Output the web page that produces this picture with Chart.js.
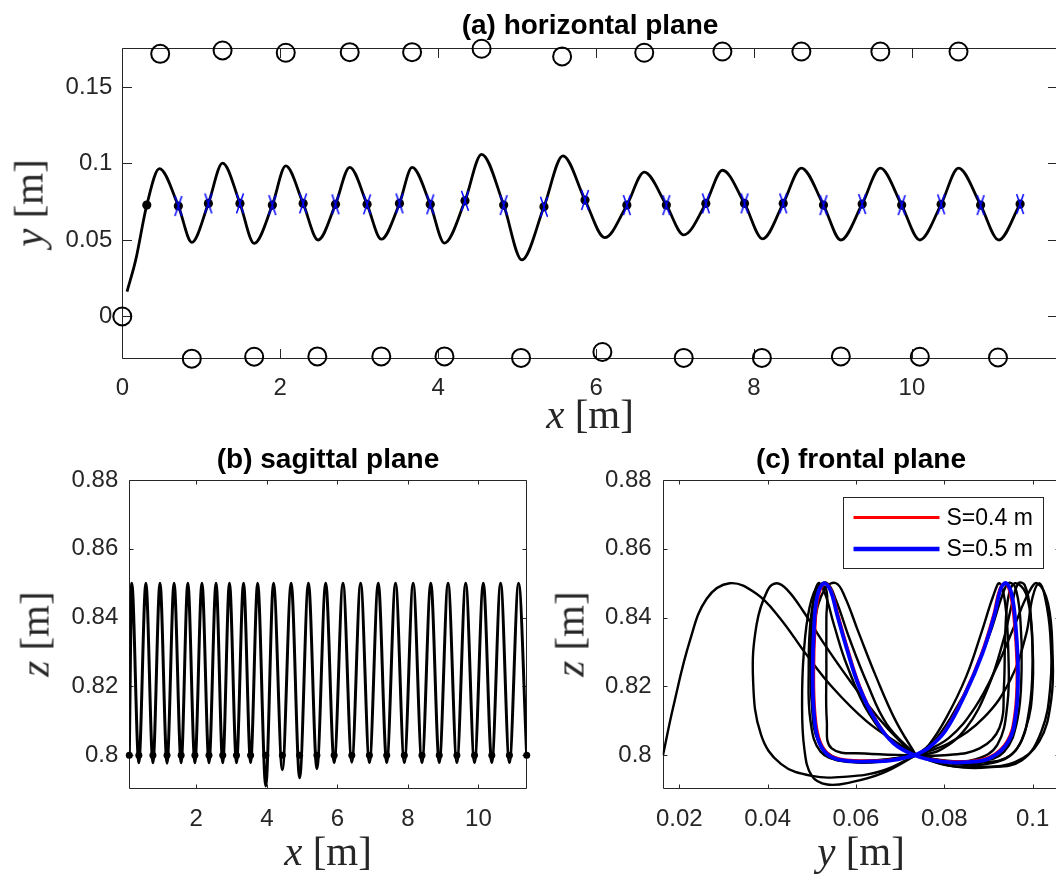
<!DOCTYPE html>
<html><head><meta charset="utf-8">
<script src="https://cdn.jsdelivr.net/npm/chart.js@4.4.1/dist/chart.umd.min.js"></script>
<style>
html,body{margin:0;padding:0;background:#fff;overflow:hidden;width:1056px;height:878px;position:relative}
canvas{position:absolute}
.title{position:absolute;font:bold 28px "Liberation Sans",Arial,Helvetica,sans-serif;color:#000;line-height:1;white-space:nowrap;transform:translateX(-50%)}
.lab{position:absolute;font:41px "Liberation Serif","Times New Roman",serif;color:#262626;line-height:1;white-space:nowrap}
.lab.hx{transform:translateX(-50%)}
.lab.rot{transform:translate(-50%,-50%) rotate(-90deg)}
</style></head><body>
<canvas id="cA" width="1070" height="440" style="left:0;top:0"></canvas>
<canvas id="cB" width="540" height="438" style="left:0;top:440px"></canvas>
<canvas id="cC" width="530" height="438" style="left:540px;top:440px"></canvas>
<div class="title" style="left:590px;top:11px">(a) horizontal plane</div>
<div class="title" style="left:328px;top:445px">(b) sagittal plane</div>
<div class="title" style="left:861px;top:445px">(c) frontal plane</div>
<div class="lab hx" style="left:590px;top:394px"><i>x</i> [m]</div>
<div class="lab hx" style="left:328px;top:831px"><i>x</i> [m]</div>
<div class="lab hx" style="left:861px;top:831px"><i>y</i> [m]</div>
<div class="lab rot" style="left:29px;top:203px"><i>y</i> [m]</div>
<div class="lab rot" style="left:35px;top:634px"><i>z</i> [m]</div>
<div class="lab rot" style="left:570px;top:634px"><i>z</i> [m]</div>
<script>
// ---------------- (a) horizontal plane ----------------
const horizX = [0.06,0.17,0.31,0.47,0.71,0.88,1.09,1.27,1.49,1.67,1.90,2.07,2.29,2.48,2.70,2.88,3.10,3.28,3.51,3.67,3.90,4.08,4.34,4.55,4.83,5.06,5.34,5.58,5.86,6.11,6.39,6.61,6.89,7.11,7.39,7.60,7.88,8.11,8.37,8.60,8.88,9.10,9.37,9.60,9.87,10.10,10.37,10.59,10.87,11.10,11.37];
const horizY = [0.0163,0.037,0.0728,0.0967,0.0722,0.0485,0.0739,0.1003,0.0739,0.0478,0.0728,0.0984,0.0739,0.0500,0.0733,0.0975,0.0733,0.0505,0.0739,0.0975,0.0733,0.0480,0.0756,0.1060,0.0728,0.0370,0.0717,0.1050,0.0761,0.0515,0.0728,0.0943,0.0728,0.0533,0.0739,0.0956,0.0739,0.0507,0.0739,0.0970,0.0728,0.0500,0.0735,0.0970,0.0728,0.0500,0.0733,0.0970,0.0728,0.0500,0.0735];
const stepDotX = [0.31,0.71,1.09,1.49,1.90,2.29,2.70,3.10,3.51,3.90,4.34,4.83,5.34,5.86,6.39,6.89,7.39,7.88,8.37,8.88,9.37,9.87,10.37,10.87,11.37];
const stepDotY = [0.0728,0.0722,0.0739,0.0739,0.0728,0.0739,0.0733,0.0733,0.0739,0.0733,0.0756,0.0728,0.0717,0.0761,0.0728,0.0728,0.0739,0.0739,0.0739,0.0728,0.0735,0.0728,0.0733,0.0728,0.0735];
const footTopX = [0.48,1.27,2.07,2.88,3.67,4.55,5.57,6.61,7.60,8.60,9.60,10.59];
const footTopY = [0.1717,0.1739,0.1724,0.1728,0.1728,0.1750,0.1700,0.1724,0.1732,0.1732,0.1732,0.1732];
const footBotX = [0,0.88,1.67,2.47,3.28,4.08,5.05,6.08,7.11,8.10,9.10,10.10,11.09];
const footBotY = [0,-0.0276,-0.0263,-0.0261,-0.0261,-0.0261,-0.0271,-0.0232,-0.0271,-0.0271,-0.0261,-0.0263,-0.0268];
const aTicksX = [0,2,4,6,8,10];
const aLabelsX = ['0','2','4','6','8','10'];
const aTicksY = [0,0.05,0.1,0.15];
const aLabelsY = ['0','0.05','0.1','0.15'];

// ---------------- (b) sagittal plane ----------------
const sagX = [0.10,0.17,0.37,0.57,0.77,0.97,1.17,1.37,1.57,1.76,1.96,2.16,2.36,2.56,2.75,2.94,3.14,3.34,3.54,3.74,3.97,4.19,4.44,4.69,4.93,5.18,5.42,5.67,5.91,6.16,6.41,6.66,6.91,7.16,7.40,7.65,7.90,8.15,8.40,8.65,8.89,9.14,9.39,9.64,9.89,10.14,10.38,10.63,10.88,11.14,11.37];
const sagZ = [0.800,0.850,0.7978,0.850,0.7978,0.850,0.7977,0.850,0.7978,0.850,0.7978,0.850,0.7978,0.850,0.7978,0.850,0.7978,0.850,0.7979,0.850,0.7911,0.850,0.7958,0.850,0.7935,0.850,0.7961,0.850,0.7979,0.850,0.7980,0.850,0.7979,0.850,0.7979,0.850,0.7979,0.850,0.7979,0.850,0.7979,0.850,0.7979,0.850,0.7979,0.850,0.7979,0.850,0.7979,0.850,0.800];
const sagDotX = [0.10,0.37,0.77,1.17,1.57,1.96,2.36,2.75,3.14,3.54,3.97,4.44,4.93,5.42,5.91,6.41,6.91,7.40,7.90,8.40,8.89,9.39,9.89,10.38,10.88,11.37];
const sagDotZ = [0.8,0.8,0.8,0.8,0.8,0.8,0.8,0.8,0.8,0.8,0.8,0.8,0.8,0.8,0.8,0.8,0.8,0.8,0.8,0.8,0.8,0.8,0.8,0.8,0.8,0.8];
const bTicksX = [2,4,6,8,10];
const bLabelsX = ['2','4','6','8','10'];
const zTicks = [0.8,0.82,0.84,0.86,0.88];
const zLabels = ['0.8','0.82','0.84','0.86','0.88'];

// ---------------- (c) frontal plane: [y, z] pairs ----------------
const frontalStart = [[0.0163,0.800],[0.0186,0.8139],[0.0224,0.8333],[0.0262,0.8455],[0.0314,0.8500],[0.0374,0.8470],[0.0427,0.8400],[0.0487,0.8294],[0.0547,0.8197],[0.0623,0.8100],[0.0698,0.8032],[0.0736,0.800]];
const frontalR1 = [[0.0736,0.800],[0.0800,0.7972],[0.0880,0.7966],[0.0960,0.7980],[0.1015,0.8040],[0.1042,0.8160],[0.1045,0.8300],[0.1035,0.8440],[0.1010,0.8500],[0.0990,0.8470],[0.0960,0.8380],[0.0920,0.8260],[0.0870,0.8140],[0.0810,0.8050],[0.0736,0.800]];
const frontalL1 = [[0.0736,0.800],[0.0660,0.7955],[0.0580,0.7938],[0.0500,0.7940],[0.0430,0.7975],[0.0385,0.8060],[0.0367,0.8220],[0.0375,0.8380],[0.0400,0.8480],[0.0421,0.8500],[0.0445,0.8480],[0.0480,0.8420],[0.0530,0.8320],[0.0590,0.8210],[0.0650,0.8110],[0.0700,0.8040],[0.0736,0.800]];
const frontalL2 = [[0.0736,0.800],[0.0660,0.7948],[0.0590,0.7922],[0.0535,0.7915],[0.0500,0.7940],[0.0483,0.8020],[0.0478,0.8150],[0.0482,0.8300],[0.0495,0.8430],[0.0515,0.8495],[0.0533,0.8480],[0.0533,0.8400],[0.0533,0.8250],[0.0534,0.8100],[0.0545,0.8020],[0.0620,0.8005],[0.0736,0.800]];
const frontalR2 = [[0.0736,0.800],[0.0820,0.7968],[0.0900,0.7965],[0.0975,0.7985],[0.1020,0.8070],[0.1040,0.8200],[0.1040,0.8350],[0.1028,0.8460],[0.1015,0.8500],[0.1000,0.8460],[0.0985,0.8350],[0.0950,0.8220],[0.0890,0.8110],[0.0810,0.8035],[0.0736,0.800]];
const frontalL3 = [[0.0736,0.800],[0.0650,0.7985],[0.0570,0.7985],[0.0520,0.8010],[0.0497,0.8100],[0.0493,0.8250],[0.0498,0.8400],[0.0515,0.8490],[0.0535,0.8500],[0.0555,0.8450],[0.0585,0.8340],[0.0625,0.8210],[0.0670,0.8090],[0.0736,0.800]];
const frontalR3 = [[0.0736,0.800],[0.0810,0.7982],[0.0880,0.7982],[0.0935,0.8010],[0.0965,0.8100],[0.0975,0.8250],[0.0972,0.8400],[0.0960,0.8490],[0.0945,0.8500],[0.0930,0.8460],[0.0905,0.8360],[0.0865,0.8230],[0.0815,0.8110],[0.0770,0.8030],[0.0736,0.800]];
const frontalL4 = [[0.0736,0.800],[0.0660,0.7982],[0.0590,0.7980],[0.0535,0.8000],[0.0508,0.8080],[0.0500,0.8230],[0.0507,0.8390],[0.0530,0.8485],[0.0555,0.8500],[0.0575,0.8460],[0.0605,0.8360],[0.0645,0.8230],[0.0690,0.8100],[0.0736,0.800]];
const frontalR4 = [[0.0736,0.800],[0.0800,0.7985],[0.0870,0.7988],[0.0920,0.8030],[0.0943,0.8150],[0.0945,0.8300],[0.0938,0.8440],[0.0925,0.8500],[0.0910,0.8460],[0.0885,0.8360],[0.0850,0.8230],[0.0805,0.8110],[0.0765,0.8030],[0.0736,0.800]];
const frontalL5 = [[0.0736,0.800],[0.0640,0.7985],[0.0560,0.7990],[0.0515,0.8040],[0.0500,0.8150],[0.0498,0.8300],[0.0503,0.8440],[0.0515,0.8500],[0.0530,0.8470],[0.0550,0.8380],[0.0580,0.8260],[0.0630,0.8120],[0.0690,0.8030],[0.0736,0.800]];
const frontalR5 = [[0.0736,0.800],[0.0820,0.7975],[0.0910,0.7978],[0.0965,0.8020],[0.0992,0.8130],[0.1000,0.8280],[0.0995,0.8420],[0.0982,0.8495],[0.0968,0.8500],[0.0955,0.8450],[0.0935,0.8340],[0.0900,0.8200],[0.0850,0.8080],[0.0790,0.8015],[0.0736,0.800]];
const frontalR6 = [[0.0736,0.800],[0.0800,0.7980],[0.0880,0.7978],[0.0950,0.8000],[0.0985,0.8080],[0.1000,0.8200],[0.0998,0.8360],[0.0985,0.8470],[0.0960,0.8500],[0.0945,0.8460],[0.0938,0.8350],[0.0935,0.8200],[0.0925,0.8080],[0.0880,0.8020],[0.0800,0.8000],[0.0736,0.800]];
const frontalS04 = [[0.0733,0.800],[0.0680,0.7987],[0.0630,0.7985],[0.0580,0.7987],[0.0542,0.8001],[0.0519,0.8042],[0.0508,0.8120],[0.0505,0.8240],[0.0508,0.8370],[0.0515,0.8458],[0.0530,0.8500],[0.0545,0.8478],[0.0560,0.8408],[0.0581,0.8313],[0.0610,0.8198],[0.0648,0.8098],[0.0688,0.8033],[0.0733,0.800],[0.0790,0.7985],[0.0850,0.7983],[0.0903,0.7996],[0.0942,0.8042],[0.0959,0.8120],[0.0964,0.8240],[0.0959,0.8370],[0.0950,0.8463],[0.0938,0.8500],[0.0925,0.8483],[0.0911,0.8408],[0.0883,0.8293],[0.0845,0.8178],[0.0800,0.8070],[0.0762,0.8020],[0.0733,0.800]];
const frontalS05 = [[0.0733,0.800],[0.0680,0.7985],[0.0630,0.7982],[0.0580,0.7984],[0.0540,0.7998],[0.0516,0.8040],[0.0505,0.8120],[0.0502,0.8240],[0.0505,0.8370],[0.0512,0.8460],[0.0527,0.8500],[0.0542,0.8480],[0.0557,0.8410],[0.0578,0.8315],[0.0607,0.8200],[0.0645,0.8100],[0.0685,0.8035],[0.0733,0.800],[0.0790,0.7982],[0.0850,0.7980],[0.0905,0.7993],[0.0945,0.8040],[0.0962,0.8120],[0.0967,0.8240],[0.0962,0.8370],[0.0953,0.8465],[0.0940,0.8500],[0.0928,0.8485],[0.0914,0.8410],[0.0886,0.8295],[0.0848,0.8180],[0.0803,0.8072],[0.0765,0.8022],[0.0733,0.800]];
const frontalBlack = [frontalStart,frontalR1,frontalL1,frontalL2,frontalR2,frontalL3,frontalR3,frontalL4,frontalR4,frontalL5,frontalR5,frontalR6];
const cTicksX = [0.02,0.04,0.06,0.08,0.1];
const cLabelsX = ['0.02','0.04','0.06','0.08','0.1'];

// ---------------- helpers ----------------
const SANS = '"Liberation Sans", Arial, Helvetica, sans-serif';
Chart.defaults.animation = false;
Chart.defaults.font.family = SANS;
const zip = (xs, ys) => xs.map((v, i) => ({x: v, y: ys[i]}));
const pairs = p => p.map(q => ({x: q[0], y: q[1]}));

function mkScale(min, max, vals, labels, axis, fixed, pad) {
  return {
    type: 'linear', min, max,
    grid: {display: false, drawTicks: false}, border: {display: false},
    ticks: {padding: pad, font: {family: SANS, size: 24}, color: '#262626', maxRotation: 0, autoSkip: false,
      callback: (v, i) => labels[i]},
    afterBuildTicks: s => { s.ticks = vals.map(v => ({value: v})); },
    afterFit: s => { if (axis === 'x') s.height = fixed; else s.width = fixed; }
  };
}

const boxTicks = {
  id: 'boxTicks',
  beforeDatasetsDraw(chart, args, o) {
    const {ctx, chartArea: a, scales: {x, y}} = chart;
    const L = o.len || 4;
    const l = Math.round(a.left) + 0.5, r = Math.round(a.right) - 0.5, t = Math.round(a.top) + 0.5, b = Math.round(a.bottom) - 0.5;
    ctx.save();
    ctx.strokeStyle = '#262626'; ctx.lineWidth = 1;
    ctx.beginPath();
    ctx.rect(l, t, r - l, b - t);
    x.ticks.forEach(tk => { const p = Math.round(x.getPixelForValue(tk.value)) + 0.5; ctx.moveTo(p, b); ctx.lineTo(p, b - L); ctx.moveTo(p, t); ctx.lineTo(p, t + L); });
    y.ticks.forEach(tk => { const p = Math.round(y.getPixelForValue(tk.value)) + 0.5; ctx.moveTo(l, p); ctx.lineTo(l + L, p); ctx.moveTo(r, p); ctx.lineTo(r - L, p); });
    ctx.stroke();
    ctx.restore();
  }
};

const boxLegend = {
  id: 'boxLegend',
  afterDraw(chart, args, o) {
    if (!o.show) return;
    const {ctx, chartArea: a} = chart;
    const items = chart.data.datasets.filter(d => d.label);
    const w = 200, h = 71;
    const x0 = Math.round(a.right - o.right - w) + 0.5, y0 = Math.round(a.top + o.top) + 0.5;
    ctx.save();
    ctx.fillStyle = '#fff'; ctx.fillRect(x0, y0, w, h);
    ctx.strokeStyle = '#262626'; ctx.lineWidth = 1; ctx.strokeRect(x0, y0, w, h);
    items.forEach((d, i) => {
      const yy = y0 + 20 + i * 31.5;
      ctx.strokeStyle = d.borderColor; ctx.lineWidth = d.legendWidth;
      ctx.beginPath(); ctx.moveTo(x0 + 10, yy); ctx.lineTo(x0 + 96, yy); ctx.stroke();
      ctx.fillStyle = '#000'; ctx.font = '23px ' + SANS; ctx.textBaseline = 'middle'; ctx.textAlign = 'left';
      ctx.fillText(d.label, x0 + 103, yy + 1);
    });
    ctx.restore();
  }
};

function makeCross() {
  const c = document.createElement('canvas'); c.width = 12; c.height = 22;
  const g = c.getContext('2d'); g.strokeStyle = '#0000ff'; g.lineWidth = 1.5;
  g.beginPath(); g.moveTo(2.5, 1); g.lineTo(9.5, 21); g.moveTo(9.5, 1); g.lineTo(2.5, 21); g.stroke();
  return c;
}
const crossImg = makeCross();

const basePlugins = (len, legendShow) => ({
  legend: {display: false}, tooltip: {enabled: false}, title: {display: false},
  boxTicks: {len}, boxLegend: {show: legendShow, right: 17, top: 17}
});

// ---------------- chart (a) ----------------
new Chart(document.getElementById('cA'), {
  type: 'line',
  data: {datasets: [
    {data: zip(stepDotX.slice(1), stepDotY.slice(1)), showLine: false, pointStyle: crossImg, pointRadius: 9, order: 0, clip: false},
    {data: zip(stepDotX, stepDotY), showLine: false, pointStyle: 'circle', pointRadius: 4.6, pointBackgroundColor: '#000', pointBorderColor: '#000', pointBorderWidth: 0, order: 1, clip: false},
    {data: zip(horizX, horizY), borderColor: '#000', borderWidth: 2.8, pointRadius: 0, cubicInterpolationMode: 'monotone', fill: false, order: 2},
    {data: zip(footTopX, footTopY), showLine: false, pointStyle: 'circle', pointRadius: 9, pointBackgroundColor: 'rgba(0,0,0,0)', pointBorderColor: '#000', pointBorderWidth: 2, order: 3, clip: false},
    {data: zip(footBotX, footBotY), showLine: false, pointStyle: 'circle', pointRadius: 9, pointBackgroundColor: 'rgba(0,0,0,0)', pointBorderColor: '#000', pointBorderWidth: 2, order: 3, clip: false}
  ]},
  options: {
    responsive: false, animation: false, devicePixelRatio: 1,
    layout: {padding: {left: 0, top: 48, right: 12, bottom: 0}},
    scales: {
      x: mkScale(0, 11.85, aTicksX, aLabelsX, 'x', 80.7, 15),
      y: mkScale(-0.028, 0.1755, aTicksY, aLabelsY, 'y', 122.3, 10)
    },
    plugins: basePlugins(9.5, false)
  },
  plugins: [boxTicks, boxLegend]
});

// ---------------- chart (b) ----------------
new Chart(document.getElementById('cB'), {
  type: 'line',
  data: {datasets: [
    {data: zip(sagDotX, sagDotZ), showLine: false, pointStyle: 'circle', pointRadius: 3.5, pointBackgroundColor: '#000', pointBorderWidth: 0, order: 0, clip: false},
    {data: zip(sagX, sagZ), borderColor: '#000', borderWidth: 3, pointRadius: 0, cubicInterpolationMode: 'monotone', fill: false, order: 1}
  ]},
  options: {
    responsive: false, animation: false, devicePixelRatio: 1,
    layout: {padding: {left: 0, top: 40, right: 13.3, bottom: 0}},
    scales: {
      x: mkScale(0.1, 11.37, bTicksX, bLabelsX, 'x', 89, 16),
      y: mkScale(0.7902, 0.88, zTicks, zLabels, 'y', 129.3, 11)
    },
    plugins: basePlugins(4, false)
  },
  plugins: [boxTicks, boxLegend]
});

// ---------------- chart (c) ----------------
const cSets = [
  {label: 'S=0.4 m', data: pairs(frontalS04), borderColor: '#ff0000', borderWidth: 2.4, legendWidth: 3, pointRadius: 0, tension: 0.4, fill: false, order: 1},
  {label: 'S=0.5 m', data: pairs(frontalS05), borderColor: '#0000ff', borderWidth: 3.8, legendWidth: 4.5, pointRadius: 0, tension: 0.4, fill: false, order: 0}
];
frontalBlack.forEach(p => cSets.push({data: pairs(p), borderColor: '#000', borderWidth: 2.4, pointRadius: 0, tension: 0.4, fill: false, order: 2}));
new Chart(document.getElementById('cC'), {
  type: 'line',
  data: {datasets: cSets},
  options: {
    responsive: false, animation: false, devicePixelRatio: 1,
    layout: {padding: {left: 0, top: 40, right: 10, bottom: 0}},
    scales: {
      x: mkScale(0.01624, 0.1062, cTicksX, cLabelsX, 'x', 89, 16),
      y: mkScale(0.7902, 0.88, zTicks, zLabels, 'y', 122.7, 11)
    },
    plugins: basePlugins(4, true)
  },
  plugins: [boxTicks, boxLegend]
});
</script>
</body></html>
